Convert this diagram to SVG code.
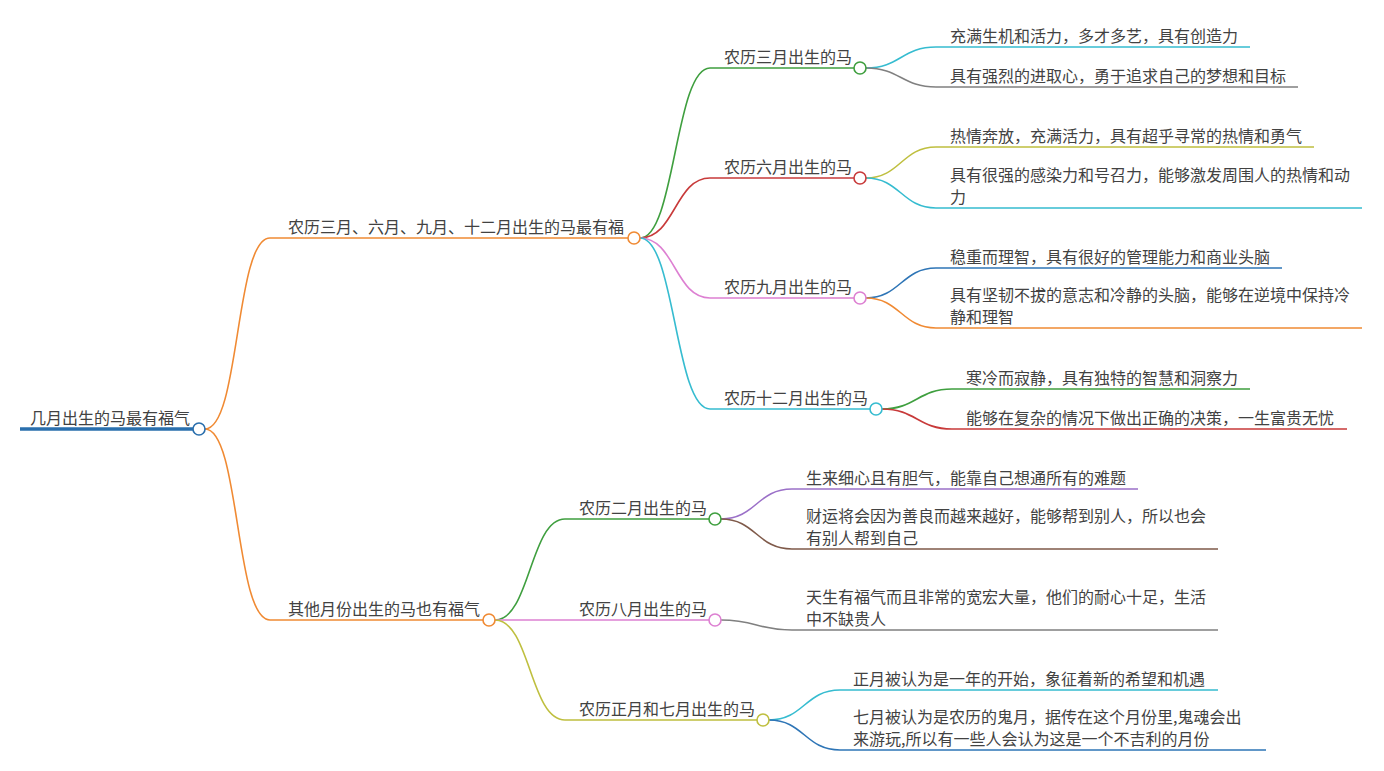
<svg xmlns="http://www.w3.org/2000/svg" width="1384" height="771" viewBox="0 0 1384 771">
<style>
text{font-family:"Noto Sans CJK SC","Liberation Sans",sans-serif;font-size:16px;fill:#424242}
.c{fill:none;stroke-width:1.6}
.n{fill:#fff;stroke-width:1.6}
</style>
<rect width="1384" height="771" fill="#fff"/>
<g id="connectors">
<path d="M20 429 H193" fill="none" stroke="#2a6fad" stroke-width="3.5"/>
<path class="c" stroke="#f08a33" stroke-width="2" d="M205 429 C240 429 235 238 270 238 H628"/>
<path class="c" stroke="#f08a33" stroke-width="2" d="M205 429 C240 429 235 620 270 620 H483"/>
<path class="c" stroke="#3f9f3f" d="M640 238 C675 238 675 68 710 68 H854"/>
<path class="c" stroke="#c83a3a" d="M640 238 C675 238 675 178 710 178 H854"/>
<path class="c" stroke="#dd80d2" d="M640 238 C675 238 675 298 710 298 H854"/>
<path class="c" stroke="#36bcd0" d="M640 238 C675 238 675 409 710 409 H870"/>
<path class="c" stroke="#36bcd0" d="M866 68 C900 68 902 47 936 47 H1250"/>
<path class="c" stroke="#808080" d="M866 68 C900 68 902 87 936 87 H1298"/>
<path class="c" stroke="#bfbf3f" d="M866 178 C900 178 902 147 936 147 H1314"/>
<path class="c" stroke="#36bcd0" d="M866 178 C900 178 902 208 936 208 H1362"/>
<path class="c" stroke="#2e75b6" d="M866 298 C900 298 902 268 936 268 H1282"/>
<path class="c" stroke="#f08a33" d="M866 298 C900 298 902 328 936 328 H1362"/>
<path class="c" stroke="#3f9f3f" d="M882 409 C916 409 918 389 952 389 H1250"/>
<path class="c" stroke="#c83a3a" d="M882 409 C916 409 918 429 952 429 H1347"/>
<path class="c" stroke="#3f9f3f" d="M495 620 C530 620 530 519 565 519 H709"/>
<path class="c" stroke="#dd80d2" d="M495 620 H709"/>
<path class="c" stroke="#bfbf3f" d="M495 620 C530 620 530 720 565 720 H757"/>
<path class="c" stroke="#9b70c8" d="M721 519 C756 519 757 489 792 489 H1138"/>
<path class="c" stroke="#7f5a4a" d="M721 519 C756 519 757 549 792 549 H1218"/>
<path class="c" stroke="#808080" d="M721 620 C756 620 757 630 792 630 H1218"/>
<path class="c" stroke="#36bcd0" d="M769 720 C804 720 805 690 840 690 H1218"/>
<path class="c" stroke="#2e75b6" d="M769 720 C804 720 805 750 840 750 H1266"/>
</g>
<g id="root"><text x="30" y="424">几月出生的马最有福气</text><circle class="n" cx="199" cy="429" r="6" stroke="#2a6fad"/></g>
<g id="b1"><text x="288" y="233">农历三月、六月、九月、十二月出生的马最有福</text><circle class="n" cx="634" cy="238" r="6" stroke="#f08a33"/></g>
<g id="b2"><text x="288" y="615">其他月份出生的马也有福气</text><circle class="n" cx="489" cy="620" r="6" stroke="#f08a33"/></g>
<g id="m3"><text x="724" y="63">农历三月出生的马</text><circle class="n" cx="860" cy="68" r="6" stroke="#3f9f3f"/></g>
<g id="m6"><text x="724" y="173">农历六月出生的马</text><circle class="n" cx="860" cy="178" r="6" stroke="#c83a3a"/></g>
<g id="m9"><text x="724" y="293">农历九月出生的马</text><circle class="n" cx="860" cy="298" r="6" stroke="#dd80d2"/></g>
<g id="m12"><text x="724" y="404">农历十二月出生的马</text><circle class="n" cx="876" cy="409" r="6" stroke="#36bcd0"/></g>
<g id="m2"><text x="579" y="514">农历二月出生的马</text><circle class="n" cx="715" cy="519" r="6" stroke="#3f9f3f"/></g>
<g id="m8"><text x="579" y="615">农历八月出生的马</text><circle class="n" cx="715" cy="620" r="6" stroke="#dd80d2"/></g>
<g id="m17"><text x="579" y="715">农历正月和七月出生的马</text><circle class="n" cx="763" cy="720" r="6" stroke="#bfbf3f"/></g>
<g id="t1"><text x="950" y="42">充满生机和活力，多才多艺，具有创造力</text></g>
<g id="t2"><text x="950" y="82">具有强烈的进取心，勇于追求自己的梦想和目标</text></g>
<g id="t3"><text x="950" y="142">热情奔放，充满活力，具有超乎寻常的热情和勇气</text></g>
<g id="t4"><text x="950" y="181">具有很强的感染力和号召力，能够激发周围人的热情和动</text><text x="950" y="203">力</text></g>
<g id="t5"><text x="950" y="263">稳重而理智，具有很好的管理能力和商业头脑</text></g>
<g id="t6"><text x="950" y="301">具有坚韧不拔的意志和冷静的头脑，能够在逆境中保持冷</text><text x="950" y="323">静和理智</text></g>
<g id="t7"><text x="966" y="384">寒冷而寂静，具有独特的智慧和洞察力</text></g>
<g id="t8"><text x="966" y="424">能够在复杂的情况下做出正确的决策，一生富贵无忧</text></g>
<g id="t9"><text x="806" y="484">生来细心且有胆气，能靠自己想通所有的难题</text></g>
<g id="t10"><text x="806" y="522">财运将会因为善良而越来越好，能够帮到别人，所以也会</text><text x="806" y="544">有别人帮到自己</text></g>
<g id="t11"><text x="806" y="603">天生有福气而且非常的宽宏大量，他们的耐心十足，生活</text><text x="806" y="625">中不缺贵人</text></g>
<g id="t12"><text x="853" y="685">正月被认为是一年的开始，象征着新的希望和机遇</text></g>
<g id="t13"><text x="853" y="723">七月被认为是农历的鬼月，据传在这个月份里,鬼魂会出</text><text x="853" y="745">来游玩,所以有一些人会认为这是一个不吉利的月份</text></g>
</svg>
